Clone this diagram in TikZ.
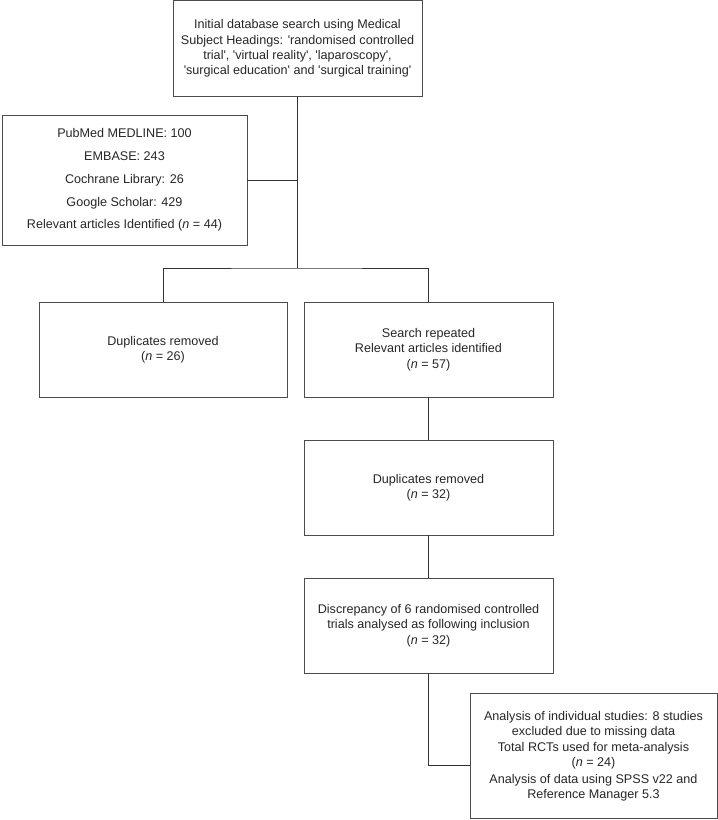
\documentclass[tikz,border=0pt]{standalone}
\usepackage{fontspec}
\newfontfamily\bodyfont{Liberation Sans}
\begin{document}
\begin{tikzpicture}[x=1pt,y=-1pt,
  every node/.style={font=\bodyfont\fontsize{12.6}{15.3}\selectfont},
  box/.style={draw=black!70, line width=0.9pt, align=center, inner sep=0pt, text=black!85},
  conn/.style={draw=black!80, line width=0.9pt}]
\useasboundingbox (0,0) rectangle (718,820);
\node[box, minimum width=249, minimum height=96] (top) at (297.5,48.5)
  {Initial database search using Medical\\Subject Headings: 'randomised controlled\\trial', 'virtual reality', 'laparoscopy',\\'surgical education' and 'surgical training'};
\node[box, minimum width=245, minimum height=130] (pub) at (124.5,180)
  {PubMed MEDLINE: 100\\[7.5pt]EMBASE: 243\\[7.5pt]Cochrane Library: 26\\[7.5pt]Google Scholar: 429\\[7.5pt]Relevant articles Identified (\textit{n} = 44)};
\node[box, minimum width=248, minimum height=95] (dupa) at (163,349.5)
  {Duplicates removed\\(\textit{n} = 26)};
\node[box, minimum width=249, minimum height=95] (search) at (428.5,349.5)
  {Search repeated\\Relevant articles identified\\(\textit{n} = 57)};
\node[box, minimum width=249, minimum height=95] (dupb) at (428.5,487.5)
  {Duplicates removed\\(\textit{n} = 32)};
\node[box, minimum width=249, minimum height=95] (disc) at (428.5,625.5)
  {Discrepancy of 6 randomised controlled\\trials analysed as following inclusion\\(\textit{n} = 32)};
\node[box, minimum width=247, minimum height=125] (final) at (593.5,756)
  {Analysis of individual studies: 8 studies\\excluded due to missing data\\[1pt]Total RCTs used for meta-analysis\\(\textit{n} = 24)\\[1pt]Analysis of data using SPSS v22 and\\Reference Manager 5.3};
\coordinate (split) at (297.5,268);
\coordinate (turn) at (428.5,765);
\draw[conn] (top.south) -- (split);
\draw[conn] (pub.east) -- (pub.east -| split);
\draw[conn] (dupa.north) |- (split) -| (search.north);
\draw[conn] (search.south) -- (dupb.north);
\draw[conn] (dupb.south) -- (disc.north);
\draw[conn] (disc.south) -- (turn) -- (turn -| final.west);
\end{tikzpicture}
\end{document}
